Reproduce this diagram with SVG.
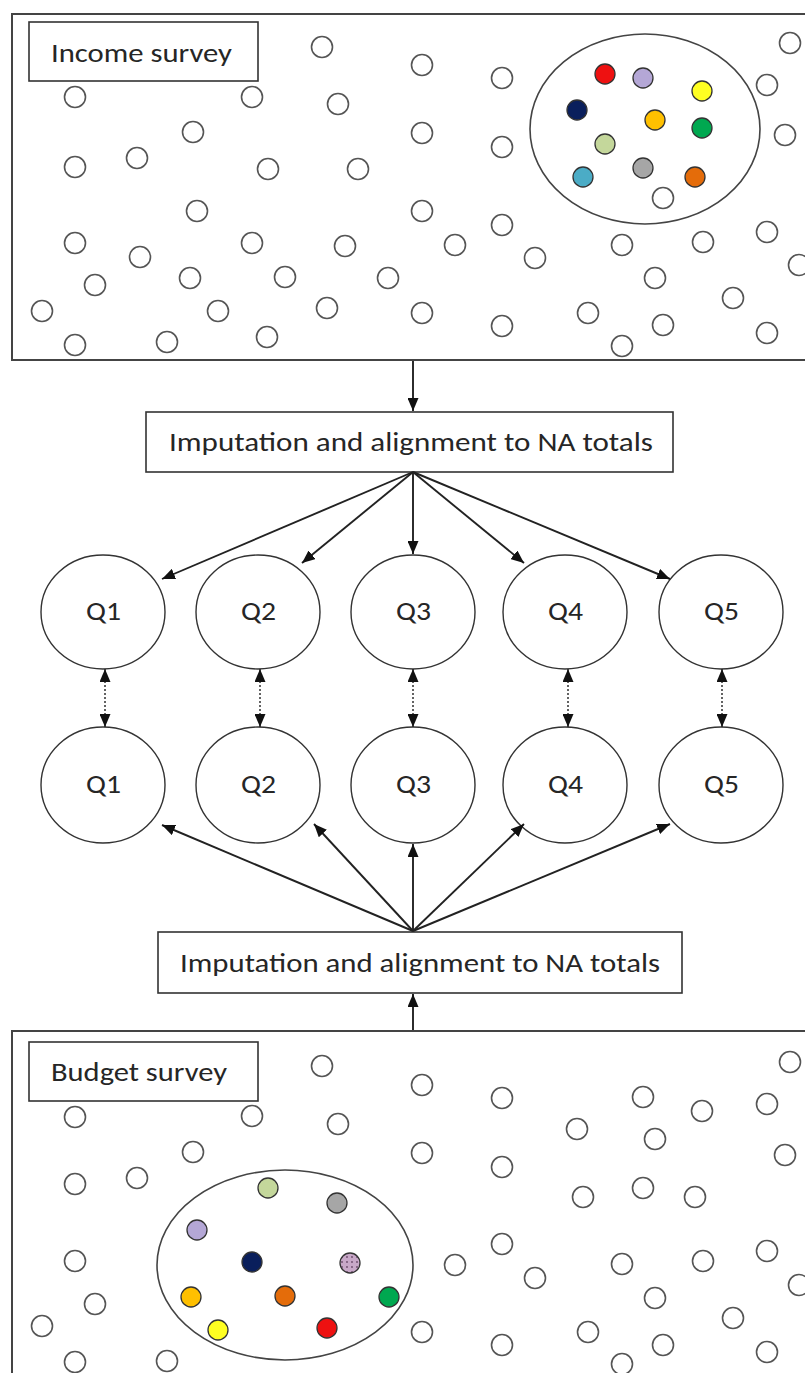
<svg xmlns="http://www.w3.org/2000/svg" width="805" height="1373" viewBox="0 0 805 1373">
<style>
.frame{fill:#fff;stroke:#444;stroke-width:2}
.lbl{fill:#fff;stroke:#333;stroke-width:1.6}
.t{font-family:Carlito,Lato,"Liberation Sans",sans-serif;font-size:26.5px;fill:#262626}
.d{fill:#fff;stroke:#555;stroke-width:1.6}
.c{stroke:#333;stroke-width:1.3}
.big{fill:none;stroke:#444;stroke-width:1.6}
.q{fill:#fff;stroke:#333;stroke-width:1.4}
.a{stroke:#222;stroke-width:1.9;fill:none;marker-end:url(#ah)}
.dd{stroke:#222;stroke-width:1.4;stroke-dasharray:2 2;fill:none;marker-end:url(#ah);marker-start:url(#ah)}
</style>
<defs>
<marker id="ah" markerUnits="userSpaceOnUse" markerWidth="13" markerHeight="11" refX="13" refY="5.5" orient="auto-start-reverse"><path d="M0,0 L13,5.5 L0,11 z" fill="#111"/></marker>
<pattern id="dots" patternUnits="userSpaceOnUse" width="5" height="5"><rect width="5" height="5" fill="#c8a8c8"/><circle cx="2" cy="2" r="0.9" fill="#6a4a6a"/></pattern>
</defs>
<rect width="805" height="1373" fill="#fff"/>

<g id="income-survey">
<rect class="frame" x="12" y="14" width="800" height="346"/>
<g id="income-dots">
<circle class="d" cx="322" cy="47" r="10.5"/><circle class="d" cx="75" cy="97" r="10.5"/><circle class="d" cx="252" cy="97" r="10.5"/><circle class="d" cx="338" cy="104" r="10.5"/><circle class="d" cx="193" cy="132" r="10.5"/><circle class="d" cx="75" cy="167" r="10.5"/><circle class="d" cx="137" cy="158" r="10.5"/><circle class="d" cx="268" cy="169" r="10.5"/><circle class="d" cx="358" cy="169" r="10.5"/><circle class="d" cx="197" cy="211" r="10.5"/><circle class="d" cx="75" cy="243" r="10.5"/><circle class="d" cx="252" cy="243" r="10.5"/><circle class="d" cx="345" cy="246" r="10.5"/><circle class="d" cx="140" cy="257" r="10.5"/><circle class="d" cx="95" cy="285" r="10.5"/><circle class="d" cx="190" cy="278" r="10.5"/><circle class="d" cx="285" cy="277" r="10.5"/><circle class="d" cx="388" cy="278" r="10.5"/><circle class="d" cx="42" cy="311" r="10.5"/><circle class="d" cx="218" cy="311" r="10.5"/><circle class="d" cx="327" cy="308" r="10.5"/><circle class="d" cx="75" cy="345" r="10.5"/><circle class="d" cx="167" cy="342" r="10.5"/><circle class="d" cx="267" cy="337" r="10.5"/>
<circle class="d" cx="790" cy="43" r="10.5"/><circle class="d" cx="422" cy="65" r="10.5"/><circle class="d" cx="502" cy="78" r="10.5"/><circle class="d" cx="767" cy="85" r="10.5"/><circle class="d" cx="422" cy="133" r="10.5"/><circle class="d" cx="502" cy="147" r="10.5"/><circle class="d" cx="785" cy="135" r="10.5"/><circle class="d" cx="422" cy="211" r="10.5"/><circle class="d" cx="502" cy="225" r="10.5"/><circle class="d" cx="455" cy="245" r="10.5"/><circle class="d" cx="535" cy="258" r="10.5"/><circle class="d" cx="622" cy="245" r="10.5"/><circle class="d" cx="703" cy="242" r="10.5"/><circle class="d" cx="767" cy="232" r="10.5"/><circle class="d" cx="799" cy="265" r="10.5"/><circle class="d" cx="655" cy="278" r="10.5"/><circle class="d" cx="733" cy="298" r="10.5"/><circle class="d" cx="422" cy="313" r="10.5"/><circle class="d" cx="502" cy="326" r="10.5"/><circle class="d" cx="588" cy="313" r="10.5"/><circle class="d" cx="663" cy="325" r="10.5"/><circle class="d" cx="622" cy="346" r="10.5"/><circle class="d" cx="767" cy="333" r="10.5"/>
</g>
<ellipse class="big" cx="645" cy="129" rx="115" ry="95"/>
<circle class="d" cx="663" cy="198" r="10.5"/>
<g id="income-sample">
<circle class="c" cx="605" cy="74" r="10" fill="#ee1111"/><circle class="c" cx="643" cy="78" r="10" fill="#b4a7d6"/><circle class="c" cx="702" cy="91" r="10" fill="#ffff22"/><circle class="c" cx="577" cy="110" r="10" fill="#0a1f5c"/><circle class="c" cx="655" cy="120" r="10" fill="#ffc000"/><circle class="c" cx="702" cy="128" r="10" fill="#00a850"/><circle class="c" cx="605" cy="144" r="10" fill="#c4d79b"/><circle class="c" cx="583" cy="177" r="10" fill="#4bacc6"/><circle class="c" cx="643" cy="168" r="10" fill="#a6a6a6"/><circle class="c" cx="695" cy="177" r="10" fill="#e46c0a"/>
</g>
<rect class="lbl" x="29" y="22" width="229" height="59"/>
<text class="t" x="51" y="62" textLength="181" lengthAdjust="spacingAndGlyphs">Income survey</text>
</g>

<g id="imputation-top">
<rect class="lbl" x="146" y="412" width="527" height="60"/>
<text class="t" x="169" y="451" textLength="484" lengthAdjust="spacingAndGlyphs">Imputation and alignment to NA totals</text>
</g>

<g id="q-top">
<g id="qt1"><ellipse class="q" cx="103" cy="612" rx="62" ry="57"/><text class="t" x="86" y="620" textLength="35" lengthAdjust="spacingAndGlyphs">Q1</text></g>
<g id="qt2"><ellipse class="q" cx="258" cy="612" rx="62" ry="57"/><text class="t" x="241" y="620" textLength="35" lengthAdjust="spacingAndGlyphs">Q2</text></g>
<g id="qt3"><ellipse class="q" cx="413" cy="612" rx="62" ry="57"/><text class="t" x="396" y="620" textLength="35" lengthAdjust="spacingAndGlyphs">Q3</text></g>
<g id="qt4"><ellipse class="q" cx="565" cy="612" rx="62" ry="57"/><text class="t" x="548" y="620" textLength="35" lengthAdjust="spacingAndGlyphs">Q4</text></g>
<g id="qt5"><ellipse class="q" cx="721" cy="612" rx="62" ry="57"/><text class="t" x="704" y="620" textLength="35" lengthAdjust="spacingAndGlyphs">Q5</text></g>
</g>

<g id="q-bottom">
<g id="qb1"><ellipse class="q" cx="103" cy="785" rx="62" ry="58"/><text class="t" x="86" y="793" textLength="35" lengthAdjust="spacingAndGlyphs">Q1</text></g>
<g id="qb2"><ellipse class="q" cx="258" cy="785" rx="62" ry="58"/><text class="t" x="241" y="793" textLength="35" lengthAdjust="spacingAndGlyphs">Q2</text></g>
<g id="qb3"><ellipse class="q" cx="413" cy="785" rx="62" ry="58"/><text class="t" x="396" y="793" textLength="35" lengthAdjust="spacingAndGlyphs">Q3</text></g>
<g id="qb4"><ellipse class="q" cx="565" cy="785" rx="62" ry="58"/><text class="t" x="548" y="793" textLength="35" lengthAdjust="spacingAndGlyphs">Q4</text></g>
<g id="qb5"><ellipse class="q" cx="721" cy="785" rx="62" ry="58"/><text class="t" x="704" y="793" textLength="35" lengthAdjust="spacingAndGlyphs">Q5</text></g>
</g>

<g id="imputation-bottom">
<rect class="lbl" x="158" y="932" width="524" height="61"/>
<text class="t" x="180" y="972" textLength="480" lengthAdjust="spacingAndGlyphs">Imputation and alignment to NA totals</text>
</g>

<g id="budget-survey">
<rect class="frame" x="12" y="1031" width="800" height="360"/>
<g id="budget-dots">
<circle class="d" cx="322" cy="1066" r="10.5"/><circle class="d" cx="75" cy="1117" r="10.5"/><circle class="d" cx="252" cy="1116" r="10.5"/><circle class="d" cx="338" cy="1124" r="10.5"/><circle class="d" cx="193" cy="1152" r="10.5"/><circle class="d" cx="75" cy="1184" r="10.5"/><circle class="d" cx="137" cy="1178" r="10.5"/><circle class="d" cx="75" cy="1261" r="10.5"/><circle class="d" cx="95" cy="1304" r="10.5"/><circle class="d" cx="42" cy="1326" r="10.5"/><circle class="d" cx="75" cy="1362" r="10.5"/><circle class="d" cx="167" cy="1361" r="10.5"/>
<circle class="d" cx="790" cy="1062" r="10.5"/><circle class="d" cx="422" cy="1085" r="10.5"/><circle class="d" cx="502" cy="1098" r="10.5"/><circle class="d" cx="643" cy="1097" r="10.5"/><circle class="d" cx="702" cy="1111" r="10.5"/><circle class="d" cx="767" cy="1104" r="10.5"/><circle class="d" cx="577" cy="1129" r="10.5"/><circle class="d" cx="655" cy="1139" r="10.5"/><circle class="d" cx="422" cy="1153" r="10.5"/><circle class="d" cx="502" cy="1167" r="10.5"/><circle class="d" cx="785" cy="1155" r="10.5"/><circle class="d" cx="583" cy="1197" r="10.5"/><circle class="d" cx="643" cy="1188" r="10.5"/><circle class="d" cx="695" cy="1197" r="10.5"/><circle class="d" cx="502" cy="1244" r="10.5"/><circle class="d" cx="455" cy="1265" r="10.5"/><circle class="d" cx="535" cy="1278" r="10.5"/><circle class="d" cx="622" cy="1264" r="10.5"/><circle class="d" cx="703" cy="1261" r="10.5"/><circle class="d" cx="767" cy="1251" r="10.5"/><circle class="d" cx="799" cy="1285" r="10.5"/><circle class="d" cx="655" cy="1298" r="10.5"/><circle class="d" cx="733" cy="1318" r="10.5"/><circle class="d" cx="422" cy="1332" r="10.5"/><circle class="d" cx="502" cy="1345" r="10.5"/><circle class="d" cx="588" cy="1332" r="10.5"/><circle class="d" cx="663" cy="1345" r="10.5"/><circle class="d" cx="622" cy="1364" r="10.5"/><circle class="d" cx="767" cy="1352" r="10.5"/>
</g>
<ellipse class="big" cx="285" cy="1265" rx="128" ry="95"/>
<g id="budget-sample">
<circle class="c" cx="268" cy="1188" r="10" fill="#c4d79b"/><circle class="c" cx="337" cy="1203" r="10" fill="#a6a6a6"/><circle class="c" cx="197" cy="1230" r="10" fill="#b4a7d6"/><circle class="c" cx="252" cy="1262" r="10" fill="#0a1f5c"/><circle class="c" cx="350" cy="1263" r="10" fill="url(#dots)"/><circle class="c" cx="191" cy="1297" r="10" fill="#ffc000"/><circle class="c" cx="285" cy="1296" r="10" fill="#e46c0a"/><circle class="c" cx="389" cy="1297" r="10" fill="#00a850"/><circle class="c" cx="218" cy="1330" r="10" fill="#ffff22"/><circle class="c" cx="327" cy="1328" r="10" fill="#ee1111"/>
</g>
<rect class="lbl" x="29" y="1042" width="229" height="59"/>
<text class="t" x="51" y="1081" textLength="176" lengthAdjust="spacingAndGlyphs">Budget survey</text>
</g>

<g id="connectors">
<line class="a" x1="413" y1="361" x2="413" y2="411"/>
<line class="a" x1="413" y1="472" x2="162" y2="579"/>
<line class="a" x1="413" y1="472" x2="302" y2="563"/>
<line class="a" x1="413" y1="472" x2="413" y2="554"/>
<line class="a" x1="413" y1="472" x2="524" y2="563"/>
<line class="a" x1="413" y1="472" x2="670" y2="579"/>
<line class="dd" x1="105" y1="669" x2="105" y2="727"/>
<line class="dd" x1="260" y1="669" x2="260" y2="727"/>
<line class="dd" x1="413" y1="669" x2="413" y2="727"/>
<line class="dd" x1="568" y1="669" x2="568" y2="727"/>
<line class="dd" x1="722" y1="669" x2="722" y2="727"/>
<line class="a" x1="413" y1="931" x2="162" y2="825"/>
<line class="a" x1="413" y1="931" x2="314" y2="824"/>
<line class="a" x1="413" y1="931" x2="413" y2="844"/>
<line class="a" x1="413" y1="931" x2="524" y2="824"/>
<line class="a" x1="413" y1="931" x2="670" y2="824"/>
<line class="a" x1="413" y1="1030" x2="413" y2="994"/>
</g>
</svg>
